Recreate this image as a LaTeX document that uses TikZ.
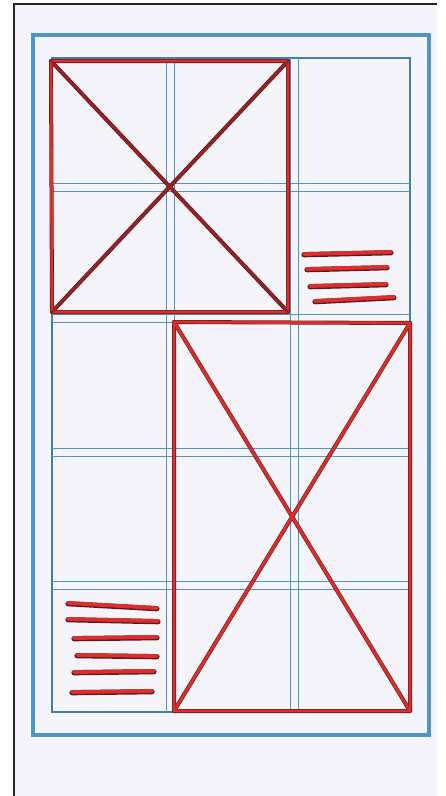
\documentclass[tikz,border=0pt]{standalone}
\definecolor{paper}{RGB}{244,244,250}
\definecolor{gridblue}{RGB}{78,150,196}
\definecolor{pen}{RGB}{222,45,45}
\definecolor{pendark}{RGB}{95,25,25}
\definecolor{penmid}{RGB}{150,35,35}
\tikzset{
  outerframe/.style={draw=gridblue,line width=4pt},
  innerframe/.style={draw=gridblue!85!black,line width=2.6pt},
  guide/.style={draw=gridblue,line width=0.9pt},
  redshadow/.style={draw=pendark,line width=4pt,line cap=round,line join=round},
  redink/.style={draw=pen,line width=2.8pt,line cap=round,line join=round},
  darkink/.style={draw=penmid,line width=2.6pt,line cap=round},
  textshadow/.style={draw=pendark,line width=5.2pt,line cap=round},
  textink/.style={draw=pen,line width=3.8pt,line cap=round},
}
\begin{document}
\begin{tikzpicture}[x=1pt,y=-1pt]
\useasboundingbox (0,0) rectangle (445,796);
\fill[white] (0,0) rectangle (445,796);
\fill[paper] (14,4) rectangle (437,796);
\draw[black!85,line width=2pt] (14,796) -- (14,4) -- (437,4);
% frames
\draw[outerframe] (33,35) rectangle (429,735);
\draw[innerframe] (52,58) rectangle (410,712);
% column guides
\foreach \x in {166,174,290,298} \draw[guide] (\x,58) -- (\x,712);
% row guides
\foreach \y in {183,191,314,322,448,456,581,589} \draw[guide] (52,\y) -- (410,\y);
% box 1
\coordinate (a1) at (51,61); \coordinate (b1) at (288,61);
\coordinate (c1) at (288,312); \coordinate (d1) at (52,312);
\draw[redshadow] (a1) -- (b1) -- (c1) -- (d1) -- cycle;
\draw[redshadow] (a1) -- (c1); \draw[redshadow] (b1) -- (d1);
\draw[redink,shift={(0.8,0.8)}] (a1) -- (b1) -- (c1) -- (d1) -- cycle;
\draw[darkink,shift={(0.6,0.6)}] (a1) -- (c1); \draw[darkink,shift={(0.6,0.6)}] (b1) -- (d1);
% box 2
\coordinate (a2) at (174,322); \coordinate (b2) at (410,323);
\coordinate (c2) at (410,711); \coordinate (d2) at (174,711);
\draw[redshadow] (a2) -- (b2) -- (c2) -- (d2) -- cycle;
\draw[redshadow] (a2) -- (c2); \draw[redshadow] (b2) -- (d2);
\draw[redink,shift={(-0.6,-0.6)}] (a2) -- (b2) -- (c2) -- (d2) -- cycle;
\draw[redink,shift={(-0.6,-0.6)}] (a2) -- (c2); \draw[redink,shift={(-0.6,-0.6)}] (b2) -- (d2);
% text lines right
\foreach \xa/\ya/\xb/\yb in {304/254/391/252, 307/269/387/267, 310/286/386/284, 315/301/394/297}{
  \draw[textshadow] (\xa,\ya+0.7) -- (\xb,\yb+0.7);
  \draw[textink] (\xa,\ya) -- (\xb,\yb);
}
% text lines left
\foreach \xa/\ya/\xb/\yb in {68/603/157/608, 68/619/158/621, 74/638/157/637, 77/655/157/656, 74/672/154/671, 72/692/152/691}{
  \draw[textshadow] (\xa,\ya+0.7) -- (\xb,\yb+0.7);
  \draw[textink] (\xa,\ya) -- (\xb,\yb);
}
\end{tikzpicture}
\end{document}
